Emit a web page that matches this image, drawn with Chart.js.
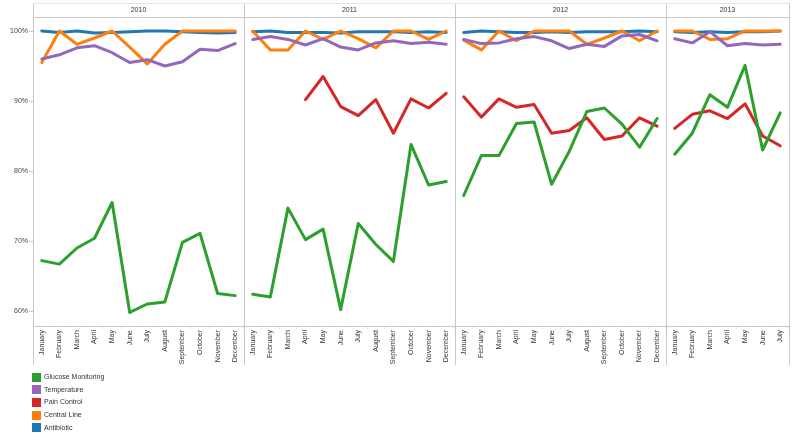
<!DOCTYPE html>
<html lang="en">
    <head>
        <meta charset="UTF-8">
        <title>Quality measures by month</title>
        <script src="https://cdn.jsdelivr.net/npm/chart.js@4.4.1/dist/chart.umd.min.js"></script>
        <style>
            body { margin: 0; background: #fff; }
            .wrap { position: relative; width: 800px; height: 441px; }
            .legend {
                position: absolute;
                left: 32px;
                top: 371px;
                font: 7px Arial, "Liberation Sans", sans-serif;
                color: #333;
            }
            .legend div { height: 12.67px; line-height: 11px; }
            .legend span {
                display: inline-block;
                width: 9px;
                height: 9px;
                margin-right: 3px;
                vertical-align: middle;
            }
        </style>
    </head>
    <body>
        <div class="wrap">
            <canvas id="qualityChart" width="800" height="441"></canvas>
            <div class="legend" id="legend"></div>
        </div>
        <script>
            const months = ["January", "February", "March", "April", "May", "June", "July",
                "August", "September", "October", "November", "December"];
            const years = ["2010", "2011", "2012", "2013"];
            const monthsPerYear = [12, 12, 12, 7];
            const yTicks = [60, 70, 80, 90, 100];

            // one value per month, year after year
            const glucose = [
                67.2, 66.7, 69.0, 70.4, 75.5, 59.8, 61.0, 61.3, 69.8, 71.1, 62.5, 62.2,
                62.4, 62.0, 74.7, 70.2, 71.7, 60.2, 72.5, 69.5, 67.1, 83.8, 78.0, 78.5,
                76.5, 82.2, 82.2, 86.8, 87.0, 78.1, 82.8, 88.5, 89.0, 86.7, 83.4, 87.5,
                82.4, 85.4, 90.9, 89.1, 95.1, 83.0, 88.3
            ];
            const temperature = [
                96.0, 96.6, 97.6, 97.9, 96.9, 95.5, 95.9, 95.0, 95.6, 97.4, 97.2, 98.2,
                98.8, 99.2, 98.8, 98.0, 98.9, 97.7, 97.3, 98.3, 98.6, 98.2, 98.4, 98.1,
                98.8, 98.2, 98.3, 98.9, 99.2, 98.6, 97.5, 98.1, 97.8, 99.3, 99.5, 98.6,
                98.9, 98.3, 99.9, 97.9, 98.2, 98.0, 98.1
            ];
            const painControl = [
                null, null, null, null, null, null, null, null, null, null, null, null,
                null, null, null, 90.2, 93.5, 89.2, 87.9, 90.2, 85.4, 90.3, 89.0, 91.1,
                90.6, 87.7, 90.3, 89.1, 89.5, 85.4, 85.8, 87.6, 84.5, 85.0, 87.6, 86.4,
                86.1, 88.1, 88.6, 87.5, 89.6, 85.0, 83.6
            ];
            const centralLine = [
                95.5, 100, 98.1, 99.0, 100, 97.7, 95.3, 98.1, 100, 100, 100, 100,
                100, 97.3, 97.3, 100, 98.8, 100, 98.9, 97.6, 100, 100, 98.8, 100,
                98.7, 97.3, 100, 98.6, 100, 100, 100, 98.1, 99.0, 100, 98.6, 100,
                100, 100, 98.8, 98.9, 100, 100, 100
            ];
            const antibiotic = [
                100, 99.8, 100, 99.7, 99.8, 99.9, 100, 100, 99.9, 99.8, 99.7, 99.8,
                99.9, 100, 99.8, 99.8, 99.8, 99.7, 99.9, 99.9, 99.9, 99.8, 99.9, 99.8,
                99.8, 100, 99.9, 99.8, 99.8, 99.9, 99.8, 99.9, 99.9, 99.9, 100, 99.9,
                99.9, 99.8, 99.9, 99.8, 99.9, 99.9, 100
            ];

            const labels = [];
            const yearEnds = [];
            years.forEach(function (y, i) {
                months.slice(0, monthsPerYear[i]).forEach(function (m) { labels.push(m); });
                yearEnds.push(labels.length);
            });

            const series = [
                { label: "Glucose Monitoring", data: glucose, color: "#2ca02c" },
                { label: "Temperature", data: temperature, color: "#9467bd" },
                { label: "Pain Control", data: painControl, color: "#d62728" },
                { label: "Central Line", data: centralLine, color: "#ff7f0e" },
                { label: "Antibiotic", data: antibiotic, color: "#1f77b4" }
            ];

            // no line between December and the next January
            function breakAtYear(ctx) {
                return yearEnds.indexOf(ctx.p0DataIndex + 1) >= 0 ? "transparent" : undefined;
            }

            const lineColor = "#c8c8c8";
            const panels = {
                id: "panels",
                afterDraw: function (chart) {
                    const ctx = chart.ctx;
                    const a = chart.chartArea;
                    const band = (a.right - a.left) / labels.length;
                    const edges = [a.left];
                    yearEnds.forEach(function (e) { edges.push(a.left + e * band); });
                    ctx.save();
                    ctx.strokeStyle = lineColor;
                    ctx.lineWidth = 1;
                    ctx.beginPath();
                    edges.forEach(function (x) {
                        x = Math.round(x) + 0.5;
                        ctx.moveTo(x, 3);
                        ctx.lineTo(x, a.bottom + 39);
                    });
                    ctx.moveTo(a.left, Math.round(a.top) + 0.5);
                    ctx.lineTo(a.right, Math.round(a.top) + 0.5);
                    ctx.stroke();
                    ctx.strokeStyle = "#e4e4e4";
                    ctx.beginPath();
                    ctx.moveTo(a.left, 3.5);
                    ctx.lineTo(a.right, 3.5);
                    ctx.stroke();
                    ctx.fillStyle = "#333";
                    ctx.font = "7px Arial, 'Liberation Sans', sans-serif";
                    ctx.textAlign = "center";
                    ctx.textBaseline = "middle";
                    years.forEach(function (y, i) {
                        ctx.fillText(y, (edges[i] + edges[i + 1]) / 2, 10.5);
                    });
                    ctx.restore();
                }
            };

            const legend = document.getElementById("legend");
            series.forEach(function (s) {
                const row = document.createElement("div");
                row.innerHTML = '<span style="background:' + s.color + '"></span>' + s.label;
                legend.appendChild(row);
            });

            const chart = new Chart(document.getElementById("qualityChart"), {
                type: "line",
                data: {
                    labels: labels,
                    datasets: series.map(function (s) {
                        return {
                            label: s.label,
                            data: s.data,
                            borderColor: s.color,
                            backgroundColor: s.color,
                            borderWidth: 3,
                            borderJoinStyle: "round",
                            borderCapStyle: "round",
                            pointRadius: 0,
                            tension: 0,
                            segment: { borderColor: breakAtYear }
                        };
                    })
                },
                options: {
                    responsive: false,
                    animation: false,
                    layout: { padding: { left: 0, right: 11, top: 17, bottom: 76 } },
                    plugins: { legend: { display: false }, tooltip: { enabled: false } },
                    scales: {
                        x: {
                            offset: true,
                            afterFit: function (scale) { scale.height = 39; },
                            grid: { offset: true, drawOnChartArea: false, tickLength: 3, color: "#e0e0e0" },
                            border: { color: lineColor },
                            ticks: {
                                autoSkip: false,
                                minRotation: 90,
                                maxRotation: 90,
                                padding: 1,
                                color: "#333",
                                font: { family: "Arial, 'Liberation Sans', sans-serif", size: 7 }
                            }
                        },
                        y: {
                            min: 57.86,
                            max: 102,
                            afterFit: function (scale) { scale.width = 33; },
                            afterBuildTicks: function (scale) {
                                scale.ticks = yTicks.map(function (v) { return { value: v }; });
                            },
                            grid: { drawOnChartArea: false, tickLength: 4, color: lineColor },
                            border: { display: false },
                            ticks: {
                                padding: 1,
                                color: "#444",
                                font: { family: "Arial, 'Liberation Sans', sans-serif", size: 7 },
                                callback: function (v) { return v + "%"; }
                            }
                        }
                    }
                },
                plugins: [panels]
            });
        </script>
    </body>
</html>
